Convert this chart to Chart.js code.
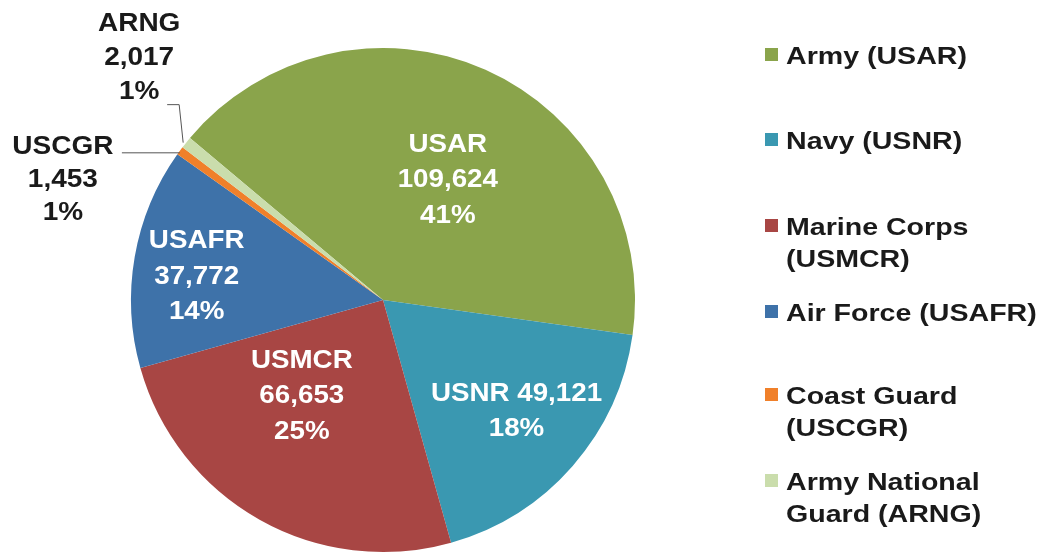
<!DOCTYPE html>
<html>
<head>
<meta charset="utf-8">
<script src="https://cdn.jsdelivr.net/npm/chart.js@4"></script>
<style>
  body { margin: 0; background: #fff; }
  #wrap { width: 1045px; height: 556px; }
</style>
</head>
<body>
<div id="wrap"><canvas id="grafico-reserva" width="1045" height="556"></canvas></div>
<script>
// dados do gráfico
var codigos = ["USAR", "USNR", "USMCR", "USAFR", "USCGR", "ARNG"];
var legendas = [
  ["Army (USAR)"],
  ["Navy (USNR)"],
  ["Marine Corps", "(USMCR)"],
  ["Air Force (USAFR)"],
  ["Coast Guard", "(USCGR)"],
  ["Army National", "Guard (ARNG)"]
];
var efetivo = [109624, 49121, 66653, 37772, 1453, 2017];
var cores = ["#8AA44B", "#3A98B1", "#A84644", "#3E72A9", "#F0802A", "#CADDAC"];

// posição dos rótulos dentro das fatias: [fração do ângulo, fração do raio]
var posInterna = [[0.53, 0.54], [0.48, 0.69], [0.62, 0.50], [0.445, 0.745], null, null];

var total = efetivo.reduce(function (a, b) { return a + b; }, 0);
function fmt(n) { return n.toLocaleString("en-US"); }
function pct(n) { return Math.round(n / total * 100) + "%"; }

function linhas(i) {
  if (codigos[i] === "USNR") return [codigos[i] + " " + fmt(efetivo[i]), pct(efetivo[i])];
  return [codigos[i], fmt(efetivo[i]), pct(efetivo[i])];
}

function texto(ctx, s, x, y, sx) {
  ctx.save();
  ctx.translate(x, y);
  ctx.scale(sx, 1);
  ctx.fillText(s, 0, 0);
  ctx.restore();
}

// rótulos das fatias
var rotulos = {
  id: "rotulos",
  afterDatasetsDraw: function (chart) {
    var ctx = chart.ctx;
    var arcs = chart.getDatasetMeta(0).data;
    ctx.save();
    ctx.textAlign = "center";
    ctx.textBaseline = "middle";
    ctx.font = "bold 25px 'Liberation Sans', Arial, sans-serif";
    arcs.forEach(function (arc, i) {
      var p = arc.getProps(["x", "y", "startAngle", "endAngle", "outerRadius"], true);
      var ls = linhas(i);
      if (posInterna[i]) {
        var a = p.startAngle + (p.endAngle - p.startAngle) * posInterna[i][0];
        var r = p.outerRadius * posInterna[i][1];
        var cx = p.x + Math.cos(a) * r, cy = p.y + Math.sin(a) * r;
        ctx.fillStyle = "#ffffff";
        ls.forEach(function (s, k) {
          texto(ctx, s, cx, cy + (k - (ls.length - 1) / 2) * 35.5, 1.11);
        });
      } else {
        var m = (p.startAngle + p.endAngle) / 2;
        var ax = p.x + Math.cos(m) * p.outerRadius, ay = p.y + Math.sin(m) * p.outerRadius;
        ctx.strokeStyle = "#555";
        ctx.lineWidth = 1;
        ctx.fillStyle = "#1a1a1a";
        ctx.beginPath();
        if (codigos[i] === "ARNG") {
          ctx.moveTo(ax - 3, ay);
          ctx.lineTo(ax - 7, ay - 38);
          ctx.lineTo(ax - 19, ay - 38);
          ctx.stroke();
          ls.forEach(function (s, k) { texto(ctx, s, ax - 47, ay - 119 + k * 34, 1.12); });
        } else {
          ctx.moveTo(ax, ay + 2);
          ctx.lineTo(ax - 58, ay + 2);
          ctx.stroke();
          ls.forEach(function (s, k) { texto(ctx, s, ax - 117, ay - 4 + k * 33, 1.12); });
        }
      }
    });
    ctx.restore();
  }
};

// legenda à direita
var legenda = {
  id: "legenda",
  afterDraw: function (chart) {
    var ctx = chart.ctx;
    var ys = [57, 142, 228, 314, 397, 483];
    ctx.save();
    ctx.textAlign = "left";
    ctx.textBaseline = "middle";
    ctx.font = "bold 24px 'Liberation Sans', Arial, sans-serif";
    legendas.forEach(function (ls, i) {
      ctx.fillStyle = cores[i];
      ctx.fillRect(765, ys[i] - 9, 13, 13);
      ctx.fillStyle = "#1a1a1a";
      ls.forEach(function (s, k) { texto(ctx, s, 786, ys[i] + k * 32, 1.19); });
    });
    ctx.restore();
  }
};

var ctx = document.getElementById("grafico-reserva").getContext("2d");

var graficoReserva = new Chart(ctx, {
  type: "pie",
  data: {
    labels: codigos,
    datasets: [
      {
        data: efetivo,
        backgroundColor: cores,
        borderWidth: 0,
      },
    ],
  },
  options: {
    responsive: false,
    animation: false,
    rotation: -50,
    layout: { padding: { left: 131, right: 410, top: 48, bottom: 4 } },
    plugins: {
      legend: { display: false },
      tooltip: { enabled: false },
    },
  },
  plugins: [rotulos, legenda],
});
</script>
</body>
</html>
